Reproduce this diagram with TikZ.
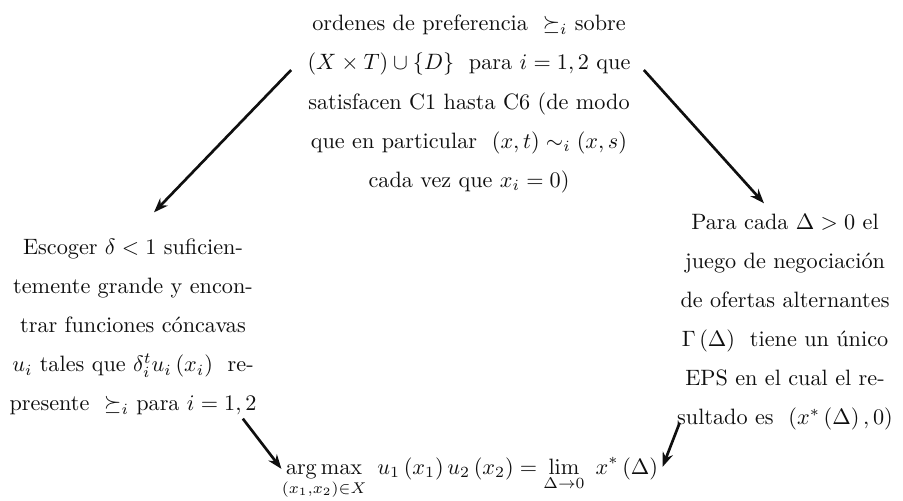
\documentclass[tikz,border=0pt]{standalone}
\usepackage{amsmath,amssymb}
\usepackage{tikz}
\usetikzlibrary{arrows.meta,positioning}
\definecolor{Ink}{RGB}{15,15,15}
\tikzset{
  stmt/.style={align=center,inner sep=0pt,text=Ink,font=\fontsize{10}{17.6}\selectfont},
  flowarrow/.style={-{Stealth[length=6.5pt,width=4.8pt]},line width=1.2pt,draw=Ink}
}

\begin{document}
\begin{tikzpicture}[x=0.45pt,y=-0.45pt]
\useasboundingbox (0,0) rectangle (903,500);

\node[stmt] (prefs) at (469,104) {ordenes de preferencia \ $\succeq_i$ sobre\\
  $(X\times T)\cup\{D\}$ \ para $i=1,2$ que\\
  satisfacen C1 hasta C6 (de modo\\
  que en particular \ $(x,t)\sim_i(x,s)$\\
  cada vez que $x_i=0$)};
\node[stmt] (escoger) at (133,327) {Escoger $\delta<1$ suficien-\\
  temente grande y encon-\\
  trar funciones cóncavas\\
  $u_i$ tales que $\delta_i^t u_i\,(x_i)$ \ re-\\
  presente \ $\succeq_i$ para $i=1,2$};
\node[stmt] (juego) at (785,322) {Para cada $\Delta>0$ el\\
  juego de negociación\\
  de ofertas alternantes\\
  $\Gamma\,(\Delta)$ \ tiene un único\\
  EPS en el cual el re-\\
  sultado es \ $(x^*\,(\Delta)\,,0)$};
\node[stmt,anchor=base] (limite) at (470,474)
  {$\displaystyle\operatorname*{arg\,max}_{(x_1,x_2)\in X}\ u_1\,(x_1)\,u_2\,(x_2)=\lim_{\Delta\to0}\ x^*\,(\Delta)$};

\draw[flowarrow] ([shift={(-16,-34)}]prefs.west) -- ([shift={(21,-26)}]escoger.north);
\draw[flowarrow] ([shift={(13,-34)}]prefs.east) -- ([shift={(-21,-10)}]juego.north);
\draw[flowarrow] ([shift={(-14,3)}]escoger.south east) -- ([shift={(0,12)}]limite.north west);
\draw[flowarrow] ([shift={(3,-8)}]juego.south west) -- ([shift={(4,10)}]limite.north east);
\end{tikzpicture}
\end{document}
